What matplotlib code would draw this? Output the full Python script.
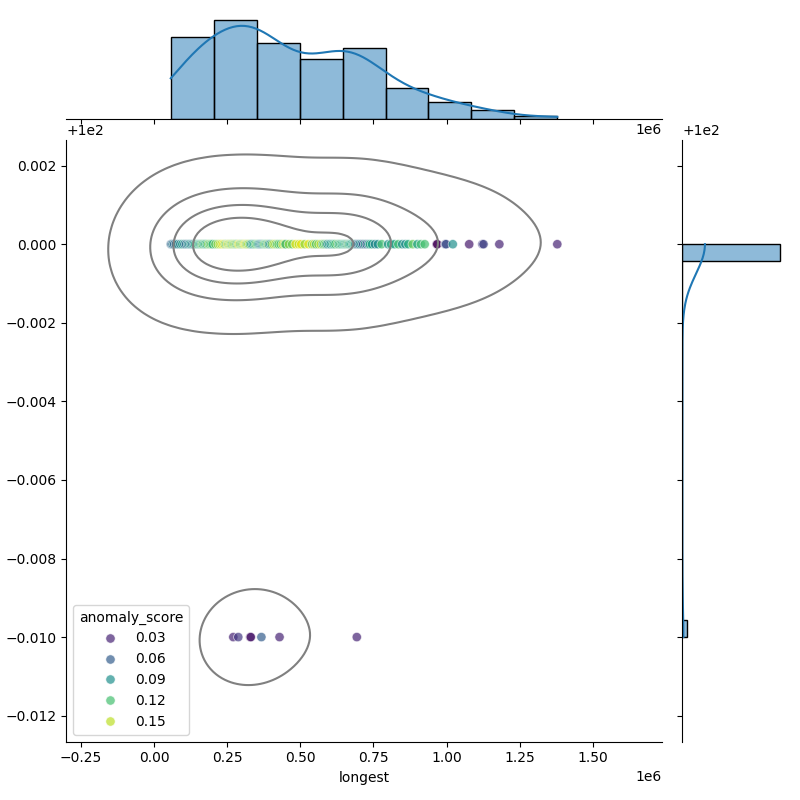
import matplotlib
matplotlib.use("Agg")
import matplotlib.pyplot as plt
import pandas as pd
import seaborn as sns

# upper row: identity = 100
longest_top = [
    57400, 60000, 64000, 69000, 75000, 82000, 90000, 97000, 104000, 110000,
    116000, 121000, 126000, 131000, 136000, 141000, 146000, 150000, 155000, 159000,
    163000, 167000, 172000, 176000, 181000, 186000, 191000, 196000, 201000,
    210000, 218000, 225000, 231000, 237000, 242000, 247000, 251000, 255000, 259000,
    263000, 267000, 271000, 275000, 279000, 283000, 287000, 291000, 295000, 299000,
    303000, 307000, 311000, 315000, 319000, 323000, 328000, 333000, 338000, 343000,
    348000,
    353000, 357000, 361000, 365000, 369000, 373000, 377000, 381000, 385000, 389000,
    393000, 398000, 403000, 409000, 415000, 421000, 426000, 433000, 440000, 446000,
    450000, 461000, 472000, 484000, 495000,
    503000, 515000, 528000, 540000, 547000, 554000, 562000, 570000, 577000, 582000,
    588000, 593000, 599000, 604000, 610000, 615000, 620000, 627000, 632000, 637000,
    642000,
    647000, 651000, 655000, 659000, 663000, 667000, 671000, 675000, 680000, 684000,
    688000, 693000, 698000, 703000, 709000, 715000, 721000, 727000, 733000, 738000,
    745000, 755000, 765000, 778000,
    800000, 810000, 822000, 835000, 848000, 859000, 869000, 884000, 900000, 912000,
    925000,
    966000, 968000, 995000, 998000, 1021000, 1077000,
    1122000, 1126000, 1180000,
    1378000,
]
score_top = [
    0.07, 0.06, 0.08, 0.065, 0.07, 0.09, 0.08, 0.10, 0.08, 0.065,
    0.09, 0.08, 0.10, 0.07, 0.09, 0.11, 0.10, 0.12, 0.11, 0.09,
    0.13, 0.12, 0.10, 0.12, 0.11, 0.14, 0.12, 0.13, 0.11,
    0.13, 0.14, 0.15, 0.15, 0.16, 0.14, 0.12, 0.165, 0.13, 0.15,
    0.14, 0.12, 0.15, 0.13, 0.14, 0.11, 0.15, 0.16, 0.12, 0.14,
    0.13, 0.15, 0.16, 0.14, 0.13, 0.15, 0.12, 0.09, 0.10, 0.11,
    0.13,
    0.12, 0.10, 0.08, 0.09, 0.08, 0.11, 0.13, 0.12, 0.10, 0.14,
    0.09, 0.09, 0.13, 0.15, 0.14, 0.12, 0.13, 0.12, 0.15, 0.15,
    0.11, 0.14, 0.13, 0.16, 0.15,
    0.16, 0.14, 0.16, 0.13, 0.15, 0.12, 0.14, 0.15, 0.11, 0.13,
    0.12, 0.08, 0.10, 0.09, 0.11, 0.11, 0.12, 0.13, 0.10, 0.12,
    0.11,
    0.11, 0.10, 0.12, 0.09, 0.13, 0.10, 0.10, 0.11, 0.09, 0.12,
    0.08, 0.07, 0.06, 0.09, 0.08, 0.05, 0.10, 0.05, 0.09, 0.11,
    0.10, 0.08, 0.09, 0.12,
    0.09, 0.11, 0.10, 0.12, 0.09, 0.09, 0.11, 0.13, 0.10, 0.12,
    0.12,
    0.02, 0.015, 0.05, 0.05, 0.09, 0.025,
    0.04, 0.045, 0.03,
    0.03,
]

# lower row: identity = 99.99
longest_low = [271000, 288000, 329000, 331000, 367000, 429000, 693000]
score_low = [0.03, 0.04, 0.02, 0.025, 0.06, 0.03, 0.03]

df = pd.DataFrame({
    "longest": longest_top + longest_low,
    "identity": [100.0] * len(longest_top) + [99.99] * len(longest_low),
    "anomaly_score": score_top + score_low,
})

g = sns.JointGrid(data=df, x="longest", y="identity", height=8)
g.plot_joint(sns.scatterplot, hue=df["anomaly_score"], palette="viridis", alpha=0.7, s=45)
g.plot_joint(sns.kdeplot, color="gray", levels=5)

sns.histplot(data=df, x="longest", ax=g.ax_marg_x, kde=True, bins=9)
sns.histplot(data=df, y="identity", ax=g.ax_marg_y, kde=True, bins=23)
for ax in [g.ax_marg_x, g.ax_marg_y]:
    ax.xaxis.label.set_visible(False)
    ax.yaxis.label.set_visible(False)

g.figure.savefig("out.png", dpi=100)
